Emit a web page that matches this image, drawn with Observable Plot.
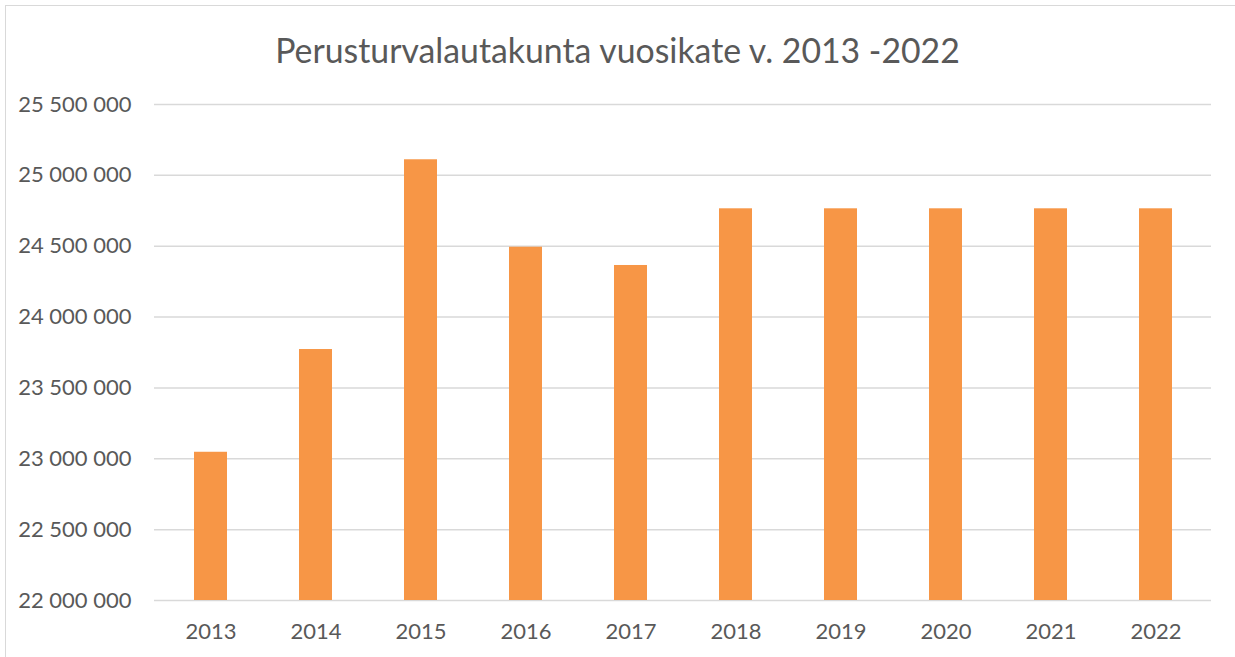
<!DOCTYPE html>
<html>
<head>
<meta charset="utf-8">
<script src="https://cdn.jsdelivr.net/npm/d3@7"></script>
<script src="https://cdn.jsdelivr.net/npm/@observablehq/plot@0.6"></script>
<style>
  html, body { margin: 0; padding: 0; background: #fff; }
  #wrap { position: relative; width: 1235px; height: 657px; overflow: hidden; font-family: Lato, "Open Sans", sans-serif; }
  #frame { position: absolute; left: 5px; top: 5px; width: 1260px; height: 700px; border: 1px solid #d9d9d9; box-sizing: border-box; }
  #title { position: absolute; left: 0; top: 0; width: 1235px; height: 85px; text-align: center; line-height: 100px; font-size: 33.8px; color: #595959; }
  #chart { position: absolute; left: 0; top: 85px; }
</style>
</head>
<body>
<div id="wrap">
  <div id="frame"></div>
  <div id="title">Perusturvalautakunta vuosikate v. 2013 -2022</div>
  <div id="chart"></div>
</div>
<script>
const years = ["2013","2014","2015","2016","2017","2018","2019","2020","2021","2022"];
const values = [23046000, 23771000, 25110000, 24493000, 24364000, 24764000, 24764000, 24764000, 24764000, 24764000];
const yTicks = [22000000, 22500000, 23000000, 23500000, 24000000, 24500000, 25000000, 25500000];
const yBase = 22000000;

const data = years.map((y, i) => ({year: y, value: values[i]}));
const fmt = d3.formatLocale({decimal: ",", thousands: " ", grouping: [3], currency: ["", " €"]}).format(",");

const chart = Plot.plot({
  width: 1235,
  height: 572,
  marginTop: 19,
  marginBottom: 57,
  marginLeft: 154,
  marginRight: 24,
  style: {fontFamily: "Lato, 'Open Sans', sans-serif", fontSize: "22px", color: "#595959", background: "transparent", overflow: "visible"},
  x: {domain: years, paddingInner: 0.69, paddingOuter: 0.345, label: null, tickSize: 0, tickPadding: 23},
  y: {domain: [yTicks[0], yTicks[yTicks.length - 1]], ticks: yTicks, tickFormat: fmt, label: null, tickSize: 0, tickPadding: 23},
  marks: [
    Plot.ruleY(yTicks, {stroke: "#d9d9d9", strokeWidth: 1.5}),
    Plot.barY(data, {x: "year", y1: () => yBase, y2: "value", fill: "#f79646"}),
    Plot.axisX({tickSize: 0, tickPadding: 23, fill: "#595959"}),
    Plot.axisY({ticks: yTicks, tickFormat: fmt, tickSize: 0, tickPadding: 23, fill: "#595959"})
  ]
});
document.getElementById("chart").appendChild(chart);
</script>
</body>
</html>
